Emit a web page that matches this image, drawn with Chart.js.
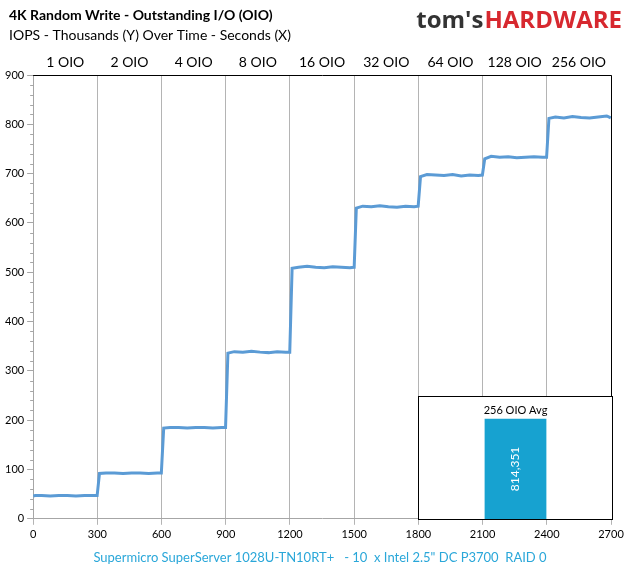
<!DOCTYPE html>
<html>
<head>
<meta charset="utf-8">
<script src="https://cdn.jsdelivr.net/npm/chart.js@4.4.0/dist/chart.umd.min.js"></script>
<style>
  body { margin: 0; background: #fff; }
  #wrap { position: relative; width: 633px; height: 571px; }
  #inset { position: absolute; left: 418px; top: 396px; width: 195px; height: 124px; }
</style>
</head>
<body>
<div id="wrap">
  <canvas id="mainChart" width="633" height="571"></canvas>
  <div id="inset"><canvas id="avgChart"></canvas></div>
</div>
<script>
const phaseLabels = ['1 OIO', '2 OIO', '4 OIO', '8 OIO', '16 OIO', '32 OIO', '64 OIO', '128 OIO', '256 OIO'];
const offsets = [0, 10, 40, 80, 120, 160, 200, 240, 280, 299];
// IOPS (thousands) sampled at the offsets above within each 300 s phase
const phaseValues = [
    [46, 47, 47, 46, 47, 47, 46, 47, 47, 47],
    [47, 92, 93, 93, 92, 93, 93, 92, 93, 93],
    [93, 184, 185, 185, 184, 185, 185, 184, 185, 185],
    [185, 336, 339, 338, 340, 338, 337, 339, 338, 338],
    [338, 508, 510, 512, 510, 509, 511, 510, 509, 510],
    [510, 630, 634, 633, 635, 633, 632, 634, 633, 634],
    [634, 694, 698, 697, 696, 698, 695, 697, 696, 697],
    [697, 730, 735, 733, 734, 732, 733, 734, 733, 733],
    [733, 812, 815, 813, 816, 814, 813, 815, 817, 813]
];
const avgLabel = '256 OIO Avg';
const avgValue = 814351;

const points = [];
phaseValues.forEach((vals, i) => {
    vals.forEach((v, j) => points.push({ x: i * 300 + offsets[j], y: v }));
});

const font = 'Lato, "Open Sans", sans-serif';

const decorations = {
    id: 'decorations',
    afterDraw(chart) {
        const ctx = chart.ctx;
        const xs = chart.scales.x, ys = chart.scales.y;
        ctx.save();
        // minor ticks
        ctx.strokeStyle = '#a6a6a6';
        ctx.lineWidth = 1;
        for (let v = 0; v <= 900; v += 20) {
            if (v % 100 === 0) continue;
            const y = Math.round(ys.getPixelForValue(v)) + 0.5;
            ctx.beginPath(); ctx.moveTo(xs.left - 3, y); ctx.lineTo(xs.left, y); ctx.stroke();
        }
        // plot border
        ctx.strokeStyle = '#000';
        ctx.beginPath();
        ctx.moveTo(xs.left, ys.top + 0.5); ctx.lineTo(xs.right + 0.5, ys.top + 0.5);
        ctx.lineTo(xs.right + 0.5, ys.bottom);
        ctx.stroke();
        // phase labels
        ctx.fillStyle = '#000';
        ctx.font = '14px ' + font;
        ctx.textAlign = 'center';
        ctx.textBaseline = 'alphabetic';
        phaseLabels.forEach((t, i) => {
            ctx.fillText(t, xs.getPixelForValue(i * 300 + 150), 67);
        });
        // titles
        ctx.textAlign = 'left';
        ctx.font = 'bold 14px ' + font;
        ctx.fillText('4K Random Write - Outstanding I/O (OIO)', 9, 20);
        ctx.font = '14px ' + font;
        ctx.fillText('IOPS - Thousands (Y) Over Time - Seconds (X)', 9, 40);
        // logo
        ctx.font = 'bold 24px "Open Sans", sans-serif';
        ctx.textAlign = 'right';
        ctx.fillStyle = '#d7282f';
        ctx.fillText('HARDWARE', 622, 28);
        const w = ctx.measureText('HARDWARE').width;
        ctx.fillStyle = '#333';
        ctx.fillText("tom's", 622 - w - 1, 28);
        // footer
        ctx.textAlign = 'center';
        ctx.font = '13px ' + font;
        ctx.fillStyle = '#2aa7d9';
        ctx.fillText('Supermicro SuperServer 1028U-TN10RT+   - 10  x Intel 2.5" DC P3700  RAID 0', 320, 562);
        ctx.restore();
    }
};

new Chart(document.getElementById('mainChart'), {
    type: 'line',
    data: {
        datasets: [{
            data: points,
            borderColor: '#5b9bd5',
            borderWidth: 3,
            pointRadius: 0,
            tension: 0
        }]
    },
    options: {
        responsive: false,
        animation: false,
        layout: { padding: { top: 75, right: 22, bottom: 27, left: 2 } },
        plugins: { legend: { display: false }, tooltip: { enabled: false } },
        scales: {
            x: {
                type: 'linear', min: 0, max: 2700,
                ticks: { stepSize: 300, color: '#000', font: { family: font, size: 11 }, maxRotation: 0,
                         callback: v => String(v) },
                grid: { color: '#b4b4b4', tickLength: 6 },
                border: { color: '#a6a6a6' }
            },
            y: {
                min: 0, max: 900,
                ticks: { stepSize: 100, color: '#000', font: { family: font, size: 11 } },
                grid: { drawOnChartArea: false, color: '#a6a6a6', tickLength: 6 },
                border: { color: '#a6a6a6' }
            }
        }
    },
    plugins: [decorations]
});

const avgDecor = {
    id: 'avgDecor',
    beforeDraw(chart) {
        const ctx = chart.ctx;
        ctx.save();
        ctx.fillStyle = '#fff';
        ctx.fillRect(0, 0, chart.width, chart.height);
        ctx.restore();
    },
    afterDraw(chart) {
        const ctx = chart.ctx;
        const bar = chart.getDatasetMeta(0).data[0];
        ctx.save();
        ctx.strokeStyle = '#000';
        ctx.lineWidth = 1;
        ctx.strokeRect(0.5, 0.5, chart.width - 1, chart.height - 1);
        ctx.fillStyle = '#000';
        ctx.font = '11px ' + font;
        ctx.textAlign = 'center';
        ctx.fillText(avgLabel, bar.x, bar.y - 5);
        ctx.translate(bar.x, (bar.y + bar.base) / 2);
        ctx.rotate(-Math.PI / 2);
        ctx.fillStyle = '#fff';
        ctx.font = '12px ' + font;
        ctx.textBaseline = 'middle';
        ctx.fillText(avgValue.toLocaleString('en-US'), 0, 0);
        ctx.restore();
    }
};

new Chart(document.getElementById('avgChart'), {
    type: 'bar',
    data: {
        labels: [avgLabel],
        datasets: [{ data: [avgValue / 1000], backgroundColor: '#17a2d0', barPercentage: 0.32, categoryPercentage: 1 }]
    },
    options: {
        responsive: true,
        maintainAspectRatio: false,
        animation: false,
        layout: { padding: { top: 0, bottom: 1, left: 1, right: 1 } },
        plugins: { legend: { display: false }, tooltip: { enabled: false } },
        scales: {
            x: { display: false },
            y: { display: false, min: 0, max: 1000 }
        }
    },
    plugins: [avgDecor]
});
</script>
</body>
</html>
